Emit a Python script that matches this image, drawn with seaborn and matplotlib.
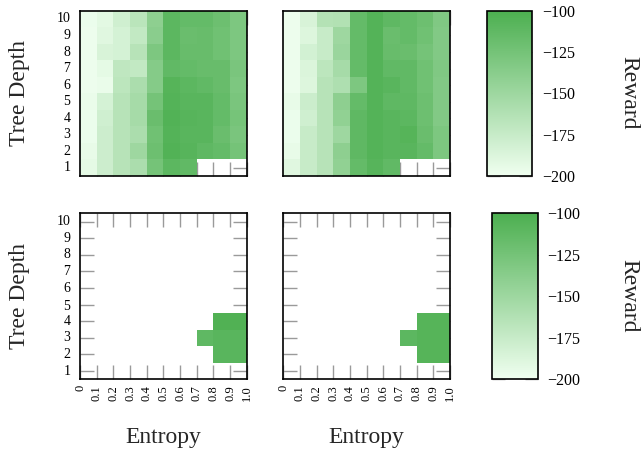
import numpy as np
import pandas as pd
import matplotlib
matplotlib.use("Agg")
import matplotlib.pyplot as plt
import seaborn as sns
from matplotlib.colors import LinearSegmentedColormap

nan = np.nan

entropy_labels = ["0", "0.1", "0.2", "0.3", "0.4", "0.5", "0.6", "0.7", "0.8", "0.9", "1.0"]
depth_labels = [10, 9, 8, 7, 6, 5, 4, 3, 2, 1]
cbar_ticks = [-100, -125, -150, -175, -200]

# rows: tree depth 10 (top) ... 1 (bottom); columns: entropy bins 0-0.1 ... 0.9-1.0
top_left = [
    [-197, -192, -180, -167, -140, -110, -115, -115, -120, -130],
    [-198, -190, -183, -172, -138, -110, -118, -117, -122, -130],
    [-198, -185, -183, -165, -130, -110, -117, -117, -122, -130],
    [-198, -193, -170, -172, -135, -113, -115, -117, -117, -128],
    [-198, -196, -168, -158, -135, -106, -110, -113, -117, -130],
    [-196, -183, -165, -155, -125, -105, -108, -108, -115, -128],
    [-197, -180, -165, -155, -118, -104, -107, -108, -115, -126],
    [-197, -178, -165, -158, -122, -105, -108, -108, -118, -128],
    [-195, -178, -165, -150, -120, -104, -107, -112, -115, -125],
    [-193, -178, -165, -158, -125, -110, -113, nan, nan, nan],
]

top_right = [
    [-198, -185, -163, -162, -115, -105, -112, -115, -120, -132],
    [-198, -188, -175, -150, -115, -105, -118, -115, -122, -133],
    [-198, -182, -175, -148, -115, -105, -117, -118, -125, -133],
    [-198, -187, -168, -155, -115, -105, -113, -113, -122, -132],
    [-198, -188, -165, -160, -130, -105, -108, -113, -122, -133],
    [-195, -177, -165, -140, -115, -105, -112, -112, -120, -133],
    [-197, -180, -165, -142, -112, -105, -108, -110, -120, -133],
    [-197, -175, -165, -150, -112, -105, -108, -106, -118, -130],
    [-195, -175, -165, -140, -112, -105, -108, -108, -115, -130],
    [-190, -175, -165, -142, -115, -107, -113, nan, nan, nan],
]

bottom_left = [
    [nan] * 10,
    [nan] * 10,
    [nan] * 10,
    [nan] * 10,
    [nan] * 10,
    [nan] * 10,
    [nan, nan, nan, nan, nan, nan, nan, nan, -103, -103],
    [nan, nan, nan, nan, nan, nan, nan, -112, -108, -108],
    [nan, nan, nan, nan, nan, nan, nan, nan, -108, -108],
    [nan] * 10,
]

bottom_right = [
    [nan] * 10,
    [nan] * 10,
    [nan] * 10,
    [nan] * 10,
    [nan] * 10,
    [nan] * 10,
    [nan, nan, nan, nan, nan, nan, nan, nan, -106, -106],
    [nan, nan, nan, nan, nan, nan, nan, -110, -106, -106],
    [nan, nan, nan, nan, nan, nan, nan, nan, -106, -106],
    [nan] * 10,
]

sns.set_theme(style="white")
plt.rcParams["font.family"] = ["Liberation Serif", "DejaVu Serif"]
plt.rcParams["axes.unicode_minus"] = True

cmap = LinearSegmentedColormap.from_list("greens", ["#f0fff0", "#4caf50"])

W, H = 642, 457
fig = plt.figure(figsize=(W / 100, H / 100), dpi=100)


def rect(x0, y0, x1, y1):
    return [x0 / W, 1 - y1 / H, (x1 - x0) / W, (y1 - y0) / H]


ax_tl = fig.add_axes(rect(80, 10.7, 246.7, 176))
ax_tr = fig.add_axes(rect(283.3, 10.7, 450, 176))
ax_bl = fig.add_axes(rect(80, 213.3, 246.7, 379.3))
ax_br = fig.add_axes(rect(283.3, 213.3, 450, 379.3))
cax_t = fig.add_axes(rect(486.7, 10.7, 532.3, 176))
cax_b = fig.add_axes(rect(491.7, 213.3, 537.7, 379.3))

cols = list(entropy_labels[:-1])
grey = "#9a9a9a"

panels = [
    (ax_tl, top_left, cax_t, True, False, True),
    (ax_tr, top_right, cax_t, False, False, False),
    (ax_bl, bottom_left, cax_b, True, True, True),
    (ax_br, bottom_right, cax_b, False, True, False),
]

colorbars = []
for ax, data, cax, show_y, show_x, draw_cbar in panels:
    df = pd.DataFrame(data, index=depth_labels, columns=cols)
    sns.heatmap(df, ax=ax, cmap=cmap, vmin=-200, vmax=-100, cbar=draw_cbar,
                cbar_ax=cax if draw_cbar else None)
    if draw_cbar:
        colorbars.append(ax.collections[0].colorbar)
    for s in ax.spines.values():
        s.set_visible(True)
        s.set_color("black")
        s.set_linewidth(1.2)
    ax.set_xticks(np.arange(len(entropy_labels)))
    ax.set_yticks(np.arange(len(depth_labels)) + 0.5)
    if show_x:
        ax.set_xticklabels(entropy_labels, rotation=90, fontsize=9)
    else:
        ax.set_xticklabels([])
    if show_y:
        ax.set_yticklabels([str(d) for d in depth_labels], rotation=0, fontsize=10)
    else:
        ax.set_yticklabels([])
    ax.tick_params(axis="both", direction="in", length=10, width=1, color=grey,
                   top=True, bottom=True, left=True, right=True,
                   labeltop=False, labelright=False, labelcolor="black")
    ax.tick_params(axis="x", pad=4)
    ax.tick_params(axis="y", pad=7)
    ax.set_xlabel("")
    ax.set_ylabel("")

for cb in colorbars:
    cax = cb.ax
    cb.outline.set_visible(True)
    cb.outline.set_edgecolor("black")
    cb.outline.set_linewidth(1.2)
    cb.set_ticks(cbar_ticks)
    cb.set_ticklabels([f"\u2212{abs(t)}" for t in cbar_ticks])
    cax.tick_params(axis="y", direction="in", length=9.5, width=1, color=grey,
                    left=True, right=True, labelleft=False, labelright=True,
                    labelsize=11.5, pad=7, labelcolor="black")

fig.text(20 / W, 1 - 93 / H, "Tree Depth", rotation=90, ha="center", va="center", fontsize=17)
fig.text(20 / W, 1 - 296 / H, "Tree Depth", rotation=90, ha="center", va="center", fontsize=17)
fig.text(163 / W, 1 - 438 / H, "Entropy", ha="center", va="center", fontsize=17)
fig.text(366 / W, 1 - 438 / H, "Entropy", ha="center", va="center", fontsize=17)
fig.text(629 / W, 1 - 93 / H, "Reward", rotation=270, ha="center", va="center", fontsize=17)
fig.text(629 / W, 1 - 296 / H, "Reward", rotation=270, ha="center", va="center", fontsize=17)

fig.savefig("out.png", dpi=100)
